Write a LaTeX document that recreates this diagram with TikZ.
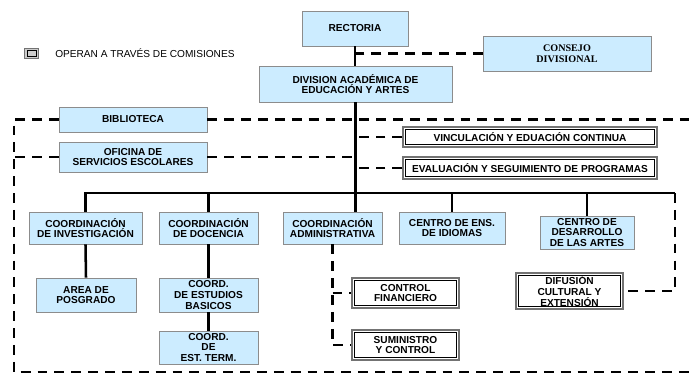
\documentclass[tikz,border=0pt]{standalone}
\usepackage{fontspec}
\setmainfont{Liberation Sans}
\newfontfamily\romana{Liberation Serif}
\usetikzlibrary{calc}
\definecolor{azul}{RGB}{204,236,255}

\begin{document}
\begin{tikzpicture}[x=0.025cm, y=-0.025cm,
		unidad/.style={draw=black!45, line width=0.6pt, fill=azul, align=center, inner sep=0pt, font=\fontsize{7.2}{7.6}\selectfont\bfseries},
		comision/.style={draw=black!55, line width=0.9pt, fill=white, align=center, inner sep=0pt, font=\fontsize{7.2}{7.6}\selectfont\bfseries,
			path picture={\draw[black, line width=0.5pt] ([shift={(1.7pt,1.7pt)}]path picture bounding box.south west) rectangle ([shift={(-1.7pt,-1.7pt)}]path picture bounding box.north east);}},
		linea/.style={line width=1.8pt},
		guion/.style={line width=1.8pt, dash pattern=on 7pt off 5pt}]
		%%%%% START %%%%%
		
		\useasboundingbox (0, 0) rectangle (689, 374);
		
		% leyenda
		\node[comision, fill=black!20, minimum width=0.34cm, minimum height=0.26cm] (ley) at (31.5, 53.5) {};
		\node[anchor=west, inner sep=0pt, font=\fontsize{7.2}{8}\selectfont] (leytxt) at (55, 53.5) {OPERAN A TRAVÉS DE COMISIONES};
		
		% nivel superior
		\node[unidad, minimum width=2.65cm, minimum height=0.875cm] (rect) at (355, 28.5) {RECTORIA};
		\node[unidad, minimum width=4.825cm, minimum height=0.9cm] (div) at (355.5, 84) {DIVISION ACADÉMICA DE\\EDUCACIÓN Y ARTES};
		\node[unidad, minimum width=4.2cm, minimum height=0.875cm, font=\fontsize{7.2}{7.6}\selectfont\romana\bfseries] (cons) at (567, 53.5) {CONSEJO\\DIVISIONAL};
		
		\node[unidad, minimum width=3.7cm, minimum height=0.625cm] (bib) at (133, 119.5) {BIBLIOTECA};
		\node[unidad, minimum width=3.7cm, minimum height=0.75cm] (ofi) at (133, 157) {OFICINA DE\\SERVICIOS ESCOLARES};
		\node[comision, minimum width=6.35cm, minimum height=0.5cm] (vin) at (530, 137) {VINCULACIÓN Y EDUACIÓN CONTINUA};
		\node[comision, minimum width=6.35cm, minimum height=0.55cm] (eva) at (530, 168) {EVALUACIÓN Y SEGUIMIENTO DE PROGRAMAS};
		
		% coordinaciones
		\node[unidad, minimum width=2.825cm, minimum height=0.8cm] (inv) at (85.5, 228) {COORDINACIÓN\\DE INVESTIGACIÓN};
		\node[unidad, minimum width=2.475cm, minimum height=0.8cm] (doc) at (208.5, 228) {COORDINACIÓN\\DE DOCENCIA};
		\node[unidad, minimum width=2.475cm, minimum height=0.8cm] (adm) at (332.5, 228) {COORDINACIÓN\\ADMINISTRATIVA};
		\node[unidad, minimum width=2.65cm, minimum height=0.8cm] (idi) at (452, 228) {CENTRO DE ENS.\\DE IDIOMAS};
		\node[unidad, minimum width=2.35cm, minimum height=0.825cm] (art) at (587, 232.5) {CENTRO DE\\DESARROLLO\\DE LAS ARTES};
		
		\node[unidad, minimum width=2.5cm, minimum height=0.85cm] (pos) at (86, 295) {AREA DE\\POSGRADO};
		\node[unidad, minimum width=2.475cm, minimum height=0.85cm] (ceb) at (208.5, 295) {COORD.\\DE ESTUDIOS\\BASICOS};
		\node[unidad, minimum width=2.475cm, minimum height=0.825cm] (cet) at (208.5, 347.5) {COORD.\\DE\\EST. TERM.};
		\node[comision, minimum width=2.675cm, minimum height=0.75cm] (cfi) at (405.5, 293) {CONTROL\\FINANCIERO};
		\node[comision, minimum width=2.675cm, minimum height=0.75cm] (sum) at (405.5, 345) {SUMINISTRO\\ Y CONTROL};
		\node[comision, minimum width=2.675cm, minimum height=0.9cm] (dif) at (569.5, 291) {DIFUSIÓN\\CULTURAL Y\\EXTENSIÓN};
		
		\coordinate (busR) at (675, 193);
		\coordinate (esqBL) at (14, 372);
		\coordinate (finT) at (689, 117);
		\coordinate (finB) at (689, 372);
		
		% lineas solidas
		\draw[linea] (rect.south) -- (div.north -| rect.south);
		\draw[linea] (div.south) -- (adm.north -| div.south);
		\draw[linea] (inv.north) |- (busR);
		\draw[linea] (doc.north) -- (doc.north |- busR);
		\draw[linea] (idi.north) -- (idi.north |- busR);
		\draw[linea] (art.north) -- (art.north |- busR);
		\draw[linea] (inv.south) -- (pos.north);
		\draw[linea] (doc.south) -- (ceb.north);
		\draw[linea] (ceb.south) -- (cet.north);
		
		% lineas punteadas
		\draw[guion] (cons.west) -- (cons.west -| rect.south);
		\draw[guion] (bib.east) -- (bib.east -| finT);
		\draw[guion] (bib.west) -- (bib.west -| esqBL) -- (esqBL) -- (finB);
		\draw[guion] (ofi.west) -- (ofi.west -| esqBL);
		\draw[guion] (ofi.east) -- (ofi.east -| div.south);
		\draw[guion] (vin.west) -- (vin.west -| div.south);
		\draw[guion] (eva.west) -- (eva.west -| div.south);
		\draw[guion] (busR) |- (dif.east);
		\draw[guion] (adm.south) |- (sum.west);
		\draw[guion] (adm.south |- cfi.west) -- (cfi.west);
		
		%%%%% END %%%%%
	\end{tikzpicture}
\end{document}
